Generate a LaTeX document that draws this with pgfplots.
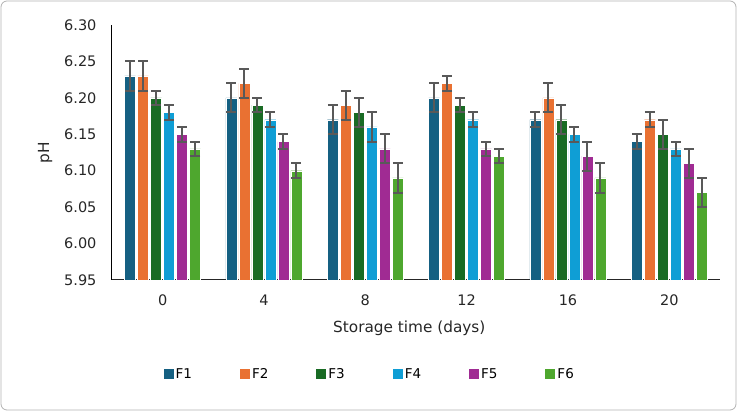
\documentclass[border=0pt]{standalone}
\usepackage{pgfplots}
\pgfplotsset{compat=1.18}
\usepackage{fontspec}
\setmainfont{DejaVu Sans}
\definecolor{cA}{HTML}{156082}
\definecolor{cB}{HTML}{E97132}
\definecolor{cC}{HTML}{196B24}
\definecolor{cD}{HTML}{0F9ED5}
\definecolor{cE}{HTML}{A02B93}
\definecolor{cF}{HTML}{4EA72E}
\definecolor{errc}{HTML}{595959}
\begin{document}
\begin{tikzpicture}[x=1pt,y=1pt]
\useasboundingbox (0,0) rectangle (737,411);
\draw[gray!60, line width=0.8pt, rounded corners=6pt] (1,1) rectangle (736,410);
\begin{axis}[
  at={(112pt,131pt)}, anchor=south west,
  scale only axis, width=608pt, height=255pt,
  ybar=2pt, bar width=11pt,
  xmin=-0.5, xmax=5.5, ymin=5.95, ymax=6.30,
  xtick={0,1,2,3,4,5}, xticklabels={0,4,8,12,16,20},
  ytick={5.95,6.00,6.05,6.10,6.15,6.20,6.25,6.30},
  /pgf/number format/assume math mode=true,
  yticklabel style={font=\fontsize{14.5}{16}\selectfont, text=black!85, xshift=-12pt, /pgf/number format/.cd, fixed, fixed zerofill, precision=2},
  xticklabel style={font=\fontsize{14.5}{16}\selectfont, text=black!85, yshift=-11pt},
  major tick length=0pt,
  axis x line*=bottom, axis y line*=left,
  x axis line style={black!85, line width=1pt, -},
  y axis line style={black, line width=1pt, -},
  xlabel={Storage time (days)}, ylabel={pH},
  xlabel style={font=\fontsize{15.3}{17}\selectfont, text=black!85, at={(0.489,0)}, anchor=center, yshift=-48pt},
  ylabel style={font=\fontsize{15.3}{17}\selectfont, text=black!85, at={(-0.11,0.5)}, anchor=center},
  every axis plot/.append style={draw=white, line width=0.4pt,
    error bars/y dir=both, error bars/y explicit,
    error bars/error bar style={errc, line width=2pt},
    error bars/error mark options={rotate=90, errc, mark size=5pt, line width=2pt}},
  legend style={at={(0.424,-0.37)}, anchor=center, draw=none, legend columns=6,
    font=\fontsize{13.5}{15}\selectfont, /tikz/every even column/.append style={column sep=46pt}},
  legend image code/.code={\fill[#1, draw=none] (0pt,-5pt) rectangle (10pt,5pt);},
]
\addplot[fill=cA] coordinates {(0,6.23) +- (0,0.02) (1,6.20) +- (0,0.02) (2,6.17) +- (0,0.02) (3,6.20) +- (0,0.02) (4,6.17) +- (0,0.01) (5,6.14) +- (0,0.01)};
\addplot[fill=cB] coordinates {(0,6.23) +- (0,0.02) (1,6.22) +- (0,0.02) (2,6.19) +- (0,0.02) (3,6.22) +- (0,0.01) (4,6.20) +- (0,0.02) (5,6.17) +- (0,0.01)};
\addplot[fill=cC] coordinates {(0,6.20) +- (0,0.01) (1,6.19) +- (0,0.01) (2,6.18) +- (0,0.02) (3,6.19) +- (0,0.01) (4,6.17) +- (0,0.02) (5,6.15) +- (0,0.02)};
\addplot[fill=cD] coordinates {(0,6.18) +- (0,0.01) (1,6.17) +- (0,0.01) (2,6.16) +- (0,0.02) (3,6.17) +- (0,0.01) (4,6.15) +- (0,0.01) (5,6.13) +- (0,0.01)};
\addplot[fill=cE] coordinates {(0,6.15) +- (0,0.01) (1,6.14) +- (0,0.01) (2,6.13) +- (0,0.02) (3,6.13) +- (0,0.01) (4,6.12) +- (0,0.02) (5,6.11) +- (0,0.02)};
\addplot[fill=cF] coordinates {(0,6.13) +- (0,0.01) (1,6.10) +- (0,0.01) (2,6.09) +- (0,0.02) (3,6.12) +- (0,0.01) (4,6.09) +- (0,0.02) (5,6.07) +- (0,0.02)};
\legend{F1,F2,F3,F4,F5,F6}
\end{axis}
\end{tikzpicture}
\end{document}
